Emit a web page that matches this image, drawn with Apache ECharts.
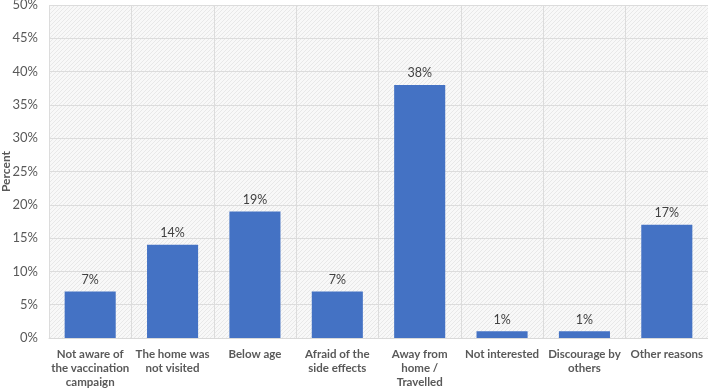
<!DOCTYPE html>
<html><head><meta charset="utf-8">
<script src="https://cdn.jsdelivr.net/npm/echarts@6/dist/echarts.min.js"></script>
<style>html,body{margin:0;padding:0;background:#fff}#c{width:708px;height:391px}</style>
</head><body><div id="c"></div>
<script>
const categories = ["Not aware of\nthe vaccination\ncampaign", "The home was\nnot visited", "Below age", "Afraid of the\nside effects", "Away from\nhome /\nTravelled", "Not interested", "Discourage by\nothers", "Other reasons"];
const values = [7, 14, 19, 7, 38, 1, 1, 17];
const yTicks = {min: 0, max: 50, interval: 5};

// hatched background pattern
const pc = document.createElement('canvas');
pc.width = 4; pc.height = 4;
const px = pc.getContext('2d');
px.fillStyle = '#f8f8f8'; px.fillRect(0,0,4,4);
px.fillStyle = '#e8e8e8';
px.fillRect(0,3,1,1); px.fillRect(1,2,1,1); px.fillRect(2,1,1,1); px.fillRect(3,0,1,1);

const chart = echarts.init(document.getElementById('c'));
chart.setOption({
  animation: false,
  grid: {left: 49, right: 0, top: 5, bottom: 53, show: true, borderWidth: 0,
    containLabel: false, outerBoundsMode: 'none',
    backgroundColor: {image: pc, repeat: 'repeat'}},
  xAxis: {
    type: 'category', data: categories,
    axisLine: {show: true, lineStyle: {color: '#d9d9d9'}},
    axisTick: {show: false},
    splitLine: {show: true, interval: 0, lineStyle: {color: '#dcdcdc'}},
    axisLabel: {interval: 0, color: '#595959', fontWeight: 'bold', fontSize: 11.5, lineHeight: 14,
      fontFamily: 'Lato', margin: 9, hideOverlap: false}
  },
  yAxis: {
    type: 'value', min: yTicks.min, max: yTicks.max, interval: yTicks.interval,
    name: 'Percent', nameLocation: 'middle', nameGap: 37, nameMoveOverlap: false,
    nameTextStyle: {color: '#595959', fontWeight: 'bold', fontSize: 12, fontFamily: 'Lato'},
    axisLabel: {formatter: '{value}%', color: '#595959', fontSize: 13, fontFamily: 'Lato', margin: 11},
    axisLine: {show: false}, axisTick: {show: false},
    splitLine: {lineStyle: {color: '#dcdcdc'}}
  },
  series: [{
    type: 'bar', data: values, barWidth: '62%',
    itemStyle: {color: '#4472C4'},
    label: {show: true, position: 'top', formatter: '{c}%', color: '#404040', fontSize: 12.5, fontFamily: 'Lato', distance: 5}
  }]
});
</script></body></html>
